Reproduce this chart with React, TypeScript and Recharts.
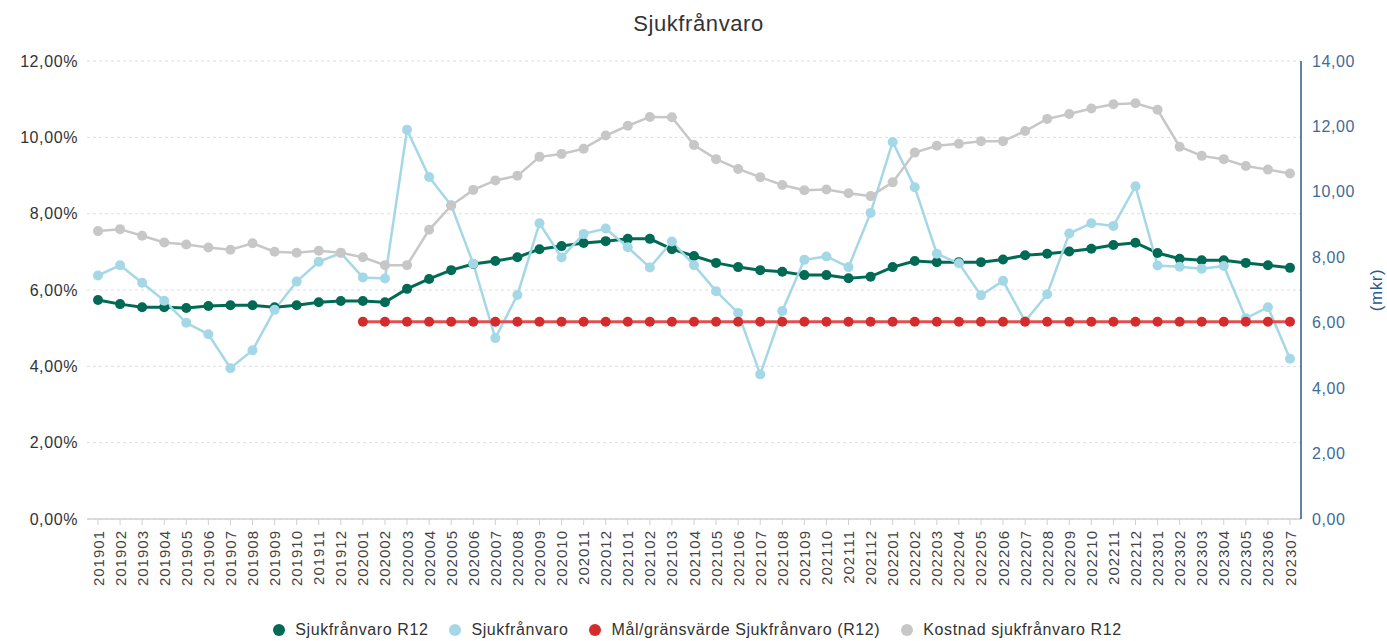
import React from 'react'
import { CartesianGrid, Legend, Line, LineChart, XAxis, YAxis } from 'recharts'

// månader (x-axel)
const months = [
  '201901', '201902', '201903', '201904', '201905', '201906', '201907', '201908', '201909', '201910', '201911', '201912',
  '202001', '202002', '202003', '202004', '202005', '202006', '202007', '202008', '202009', '202010', '202011', '202012',
  '202101', '202102', '202103', '202104', '202105', '202106', '202107', '202108', '202109', '202110', '202111', '202112',
  '202201', '202202', '202203', '202204', '202205', '202206', '202207', '202208', '202209', '202210', '202211', '202212',
  '202301', '202302', '202303', '202304', '202305', '202306', '202307',
]

// Sjukfrånvaro R12 (%)
const r12 = [
  5.74, 5.63, 5.55, 5.55, 5.53, 5.58, 5.6, 5.6, 5.55, 5.6, 5.68, 5.71,
  5.71, 5.68, 6.03, 6.29, 6.52, 6.68, 6.76, 6.86, 7.07, 7.15, 7.23, 7.28,
  7.34, 7.34, 7.07, 6.89, 6.71, 6.6, 6.52, 6.48, 6.39, 6.39, 6.31, 6.35,
  6.6, 6.76, 6.73, 6.73, 6.73, 6.8, 6.91, 6.95, 7.01, 7.08, 7.18, 7.24,
  6.97, 6.82, 6.78, 6.78, 6.71, 6.65, 6.58,
]

// Sjukfrånvaro per månad (%)
const monthly = [
  6.38, 6.65, 6.19, 5.72, 5.14, 4.84, 3.95, 4.42, 5.48, 6.22, 6.74, 6.97,
  6.33, 6.3, 10.2, 8.96, 8.22, 6.69, 4.74, 5.87, 7.75, 6.85, 7.47, 7.61,
  7.12, 6.59, 7.27, 6.65, 5.97, 5.4, 3.79, 5.45, 6.79, 6.88, 6.6, 8.02,
  9.88, 8.69, 6.95, 6.7, 5.86, 6.24, 5.18, 5.89, 7.48, 7.75, 7.68, 8.72,
  6.64, 6.61, 6.56, 6.63, 5.26, 5.55, 4.2,
]

// Mål/gränsvärde (%), gäller från 202001
const target = [
  null, null, null, null, null, null, null, null, null, null, null, null,
  5.17, 5.17, 5.17, 5.17, 5.17, 5.17, 5.17, 5.17, 5.17, 5.17, 5.17, 5.17,
  5.17, 5.17, 5.17, 5.17, 5.17, 5.17, 5.17, 5.17, 5.17, 5.17, 5.17, 5.17,
  5.17, 5.17, 5.17, 5.17, 5.17, 5.17, 5.17, 5.17, 5.17, 5.17, 5.17, 5.17,
  5.17, 5.17, 5.17, 5.17, 5.17, 5.17, 5.17,
]

// Kostnad sjukfrånvaro R12 (mkr)
const cost = [
  8.8, 8.86, 8.66, 8.45, 8.39, 8.3, 8.23, 8.43, 8.17, 8.14, 8.2, 8.14,
  8.0, 7.76, 7.76, 8.84, 9.58, 10.06, 10.35, 10.49, 11.07, 11.16, 11.32, 11.72,
  12.02, 12.29, 12.28, 11.43, 11.0, 10.7, 10.45, 10.21, 10.05, 10.07, 9.96, 9.87,
  10.29, 11.2, 11.41, 11.47, 11.55, 11.55, 11.86, 12.23, 12.38, 12.55, 12.68, 12.71,
  12.51, 11.38, 11.1, 11.0, 10.79, 10.68, 10.56,
]

const leftTicks = [0, 2, 4, 6, 8, 10, 12]
const rightTicks = [0, 2, 4, 6, 8, 10, 12, 14]

const C = {
  r12: '#006a55',
  monthly: '#a5d8e6',
  target: '#d42b2b',
  cost: '#c7c7c7',
  blue: '#2b5b8c',
}

const FONT = '"Liberation Sans", Arial, sans-serif'

const data = months.map((m, i) => ({ month: m, r12: r12[i], monthly: monthly[i], target: target[i], cost: cost[i] }))

const fmt = (v: number) => v.toFixed(2).replace('.', ',')

const LeftTick = ({ x, y, payload }: any) => (
  <text x={x} y={y} dy={5.5} textAnchor="end" fontSize={16} letterSpacing={0.6} fill="#333" fontFamily={FONT}>
    {fmt(payload.value)}%
  </text>
)

const RightTick = ({ x, y, payload }: any) => (
  <text x={x} y={y} dy={5.5} textAnchor="start" fontSize={16} letterSpacing={0.6} fill="#3f6b98" fontFamily={FONT}>
    {fmt(payload.value)}
  </text>
)

const MonthTick = ({ x, y, payload }: any) => (
  <g transform={`translate(${x},${y})`}>
    <text x={-3} y={0} dy={5.5} transform="rotate(-90)" textAnchor="end" fontSize={15} letterSpacing={1} fill="#444" fontFamily={FONT}>
      {payload.value}
    </text>
  </g>
)

const MkrLabel = ({ viewBox }: any) => {
  const cx = viewBox.x + viewBox.width - 11
  const cy = viewBox.y + viewBox.height / 2
  return (
    <text x={cx} y={cy} transform={`rotate(-90, ${cx}, ${cy})`} textAnchor="middle" dominantBaseline="central"
      fontSize={17} letterSpacing={0.6} fill={C.blue} fontFamily={FONT}>
      (mkr)
    </text>
  )
}

const legendItems = [
  { label: 'Sjukfrånvaro R12', color: C.r12 },
  { label: 'Sjukfrånvaro', color: C.monthly },
  { label: 'Mål/gränsvärde Sjukfrånvaro (R12)', color: C.target },
  { label: 'Kostnad sjukfrånvaro R12', color: C.cost },
]

const LegendBox = () => (
  <div style={{ height: 37, display: 'flex', justifyContent: 'center', alignItems: 'flex-end', paddingBottom: 2, boxSizing: 'border-box', paddingLeft: 8 }}>
    {legendItems.map((it, i) => (
      <div key={it.label} style={{ display: 'flex', alignItems: 'center', marginLeft: i === 0 ? 0 : 21, height: 18 }}>
        <span style={{ width: 12, height: 12, borderRadius: '50%', background: it.color, display: 'inline-block', marginRight: 10 }} />
        <span style={{ fontFamily: FONT, fontSize: 16, letterSpacing: 0.6, color: '#333', lineHeight: '18px' }}>{it.label}</span>
      </div>
    ))}
  </div>
)

export default function App() {
  return (
    <div style={{ position: 'absolute', left: 0, top: 0, width: 1387, height: 641, background: '#fff' }}>
      <div style={{ position: 'absolute', top: 13, left: 0, width: 1387, paddingLeft: 10, boxSizing: 'border-box', textAlign: 'center',
        fontFamily: FONT, fontSize: 22, lineHeight: '22px', letterSpacing: 0.6, color: '#333' }}>
        Sjukfrånvaro
      </div>
      <LineChart width={1387} height={641} data={data} margin={{ top: 61, right: 0, bottom: 0, left: 0 }}>
        <CartesianGrid yAxisId="left" vertical={false} stroke="#dedede" strokeDasharray="3 3" />
        <XAxis dataKey="month" interval={0} height={85} padding={{ left: 11, right: 11 }}
          axisLine={{ stroke: '#d0d0d0', strokeWidth: 1.5 }} tickLine={{ stroke: '#d0d0d0' }} tickSize={6} tick={<MonthTick />} />
        <YAxis yAxisId="left" orientation="left" width={87} domain={[0, 12]} ticks={leftTicks} interval={0}
          axisLine={false} tickLine={false} tickSize={6} tickMargin={3} tick={<LeftTick />} />
        <YAxis yAxisId="right" orientation="right" width={86} domain={[0, 14]} ticks={rightTicks} interval={0}
          axisLine={{ stroke: C.blue, strokeWidth: 1.5 }} tickLine={false} tickSize={6} tickMargin={5} tick={<RightTick />}
          label={<MkrLabel />} />
        <Legend verticalAlign="bottom" height={37} content={<LegendBox />} />
        <Line yAxisId="left" dataKey="r12" name="Sjukfrånvaro R12" stroke={C.r12} strokeWidth={3}
          dot={{ r: 5, fill: C.r12, stroke: C.r12, strokeWidth: 0 }} activeDot={false} isAnimationActive={false} />
        <Line yAxisId="left" dataKey="monthly" name="Sjukfrånvaro" stroke={C.monthly} strokeWidth={2.5}
          dot={{ r: 5, fill: C.monthly, stroke: C.monthly, strokeWidth: 0 }} activeDot={false} isAnimationActive={false} />
        <Line yAxisId="left" dataKey="target" name="Mål/gränsvärde Sjukfrånvaro (R12)" stroke="#e05050" strokeWidth={3}
          dot={{ r: 5, fill: C.target, stroke: C.target, strokeWidth: 0 }} activeDot={false} isAnimationActive={false} />
        <Line yAxisId="right" dataKey="cost" name="Kostnad sjukfrånvaro R12" stroke={C.cost} strokeWidth={2.5}
          dot={{ r: 5, fill: C.cost, stroke: C.cost, strokeWidth: 0 }} activeDot={false} isAnimationActive={false} />
      </LineChart>
    </div>
  )
}
